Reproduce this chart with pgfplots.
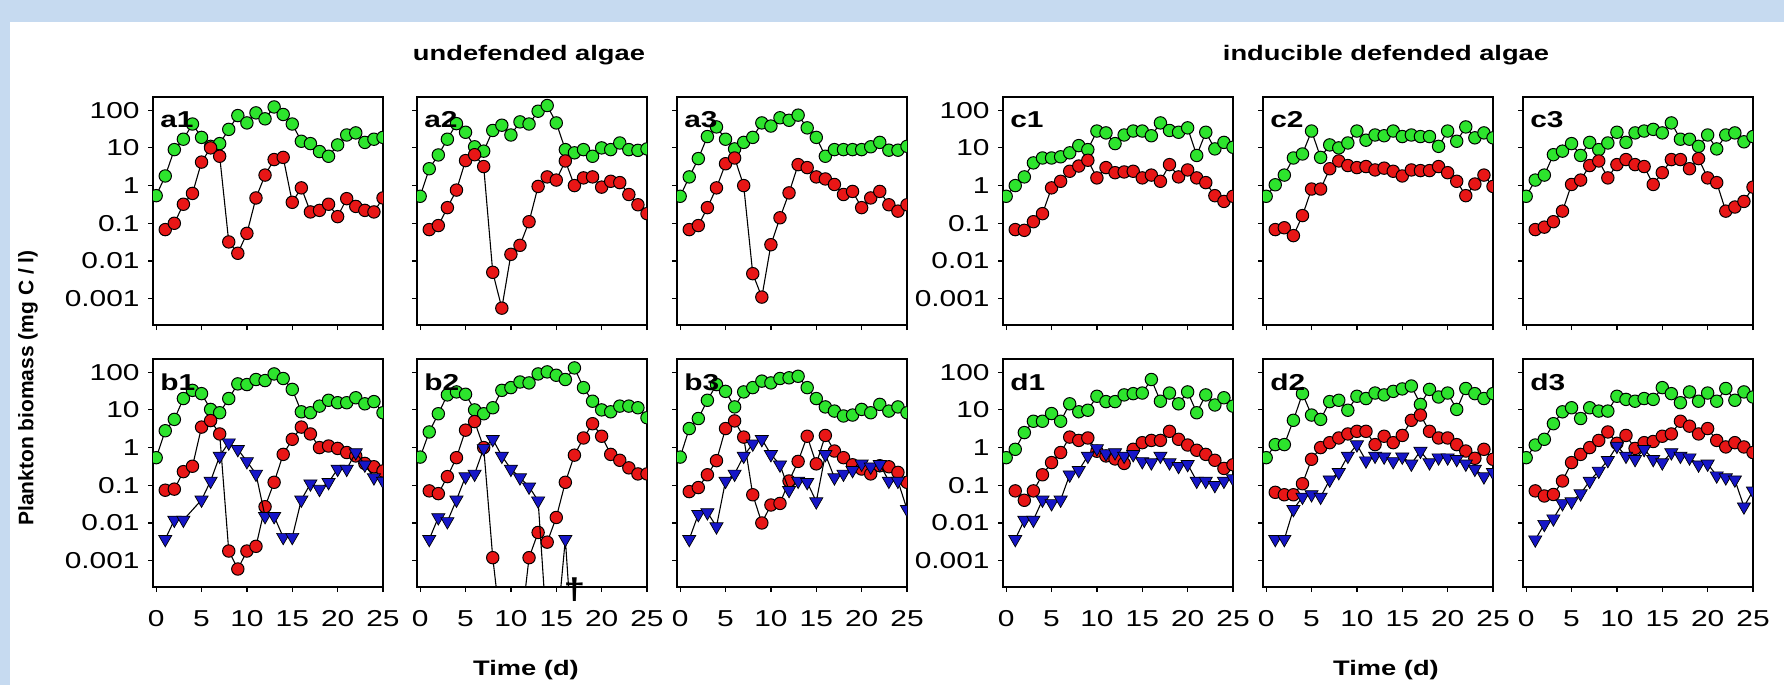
\documentclass[border=0pt]{standalone}
\usepackage{fontspec}
\setmainfont{Liberation Sans}[FakeStretch=1.3]
\newfontfamily\ylabfont{Liberation Sans}
\usepackage{pgfplots}
\pgfplotsset{compat=1.18}
\definecolor{cgreen}{RGB}{45,228,45}
\definecolor{cred}{RGB}{232,22,22}
\definecolor{cblue}{RGB}{22,22,200}
\definecolor{bgblue}{RGB}{198,218,240}
\pgfplotsset{
 mypanel/.style={
  scale only axis, width=115pt, height=114pt, anchor=north west,
  xmin=-0.35, xmax=25, ymin=0.0002, ymax=224,
  xtick={0,5,10,15,20,25}, ytick={0.001,0.01,0.1,1,10,100},
  yminorticks=false, tick align=outside, tick pos=left,
  major tick length=2.5pt,
  axis line style={line width=0.6pt},
  every tick/.append style={line width=0.6pt, black},
  xticklabels={}, yticklabels={},
  clip marker paths=true,
  tick label style={font=\fontsize{11.5}{13}\selectfont},
  yticklabel style={inner sep=0pt, xshift=-4pt},
  xticklabel style={inner sep=0pt, yshift=-9pt},
 },
 withylab/.style={yticklabels={0.001,0.01,0.1,1,10,100}},
 withxlab/.style={xticklabels={0,5,10,15,20,25}},
 sG/.style={black, line width=0.55pt, mark=*, mark size=3.1pt, mark options={fill=cgreen, draw=black, line width=0.5pt}},
 sR/.style={black, line width=0.55pt, mark=*, mark size=3.1pt, mark options={fill=cred, draw=black, line width=0.5pt}},
 sB/.style={black, line width=0.55pt, mark=triangle*, mark size=3.8pt, mark options={fill=cblue, draw=black, rotate=180, line width=0.35pt}},
}
\newcommand{\plab}[1]{\node[anchor=west, inner sep=0pt, font=\bfseries\fontsize{11.5}{13}\selectfont] at (rel axis cs:0.03,0.9) {#1};}
\begin{document}
\begin{tikzpicture}
\fill[bgblue] (0,0) rectangle (892pt,-342.5pt);
\fill[white] (5pt,-11pt) rectangle (892pt,-342.5pt);
\node[inner sep=0pt, font=\bfseries\fontsize{10.5}{12}\selectfont] at (264.5pt,-27.5pt) {undefended algae};
\node[inner sep=0pt, font=\bfseries\fontsize{10.5}{12}\selectfont] at (693pt,-27.5pt) {inducible defended algae};
\node[inner sep=0pt, font=\bfseries\fontsize{10.5}{12}\selectfont] at (263pt,-335pt) {Time (d)};
\node[inner sep=0pt, font=\bfseries\fontsize{10.5}{12}\selectfont] at (693pt,-335pt) {Time (d)};
\node[inner sep=0pt, rotate=90, font=\ylabfont\bfseries\fontsize{10.5}{12}\selectfont] at (14pt,-194pt) {Plankton biomass (mg C / l)};

% ---------- a1 ----------
\begin{axis}[ymode=log, mypanel, withylab, at={(76.5pt,-48.5pt)}]
\addplot[sG] coordinates {(0,0.54)(1,1.8)(2,9)(3,17)(4,43)(5,19)(6,11)(7,13)(8,31)(9,72)(10,46)(11,85)(12,59)(13,122)(14,77)(15,43)(16,15)(17,13)(18,8)(19,6)(20,12)(21,22)(22,25)(23,14)(24,17)(25,19)};
\addplot[sR] coordinates {(1,0.068)(2,0.1)(3,0.32)(4,0.62)(5,4.2)(6,10)(7,6)(8,0.032)(9,0.016)(10,0.054)(11,0.47)(12,1.9)(13,4.9)(14,5.6)(15,0.36)(16,0.87)(17,0.2)(18,0.22)(19,0.32)(20,0.15)(21,0.45)(22,0.28)(23,0.22)(24,0.2)(25,0.47)};
\plab{a1}
\end{axis}
% ---------- a2 ----------
\begin{axis}[ymode=log, mypanel, at={(208.5pt,-48.5pt)}]
\addplot[sG] coordinates {(0,0.52)(1,2.8)(2,6.5)(3,17)(4,44)(5,26)(6,10.7)(7,8.2)(8,29)(9,40)(10,22)(11,49)(12,43)(13,94)(14,133)(15,46)(16,9)(17,7.4)(18,9)(19,6)(20,10)(21,9)(22,13.5)(23,9)(24,8.6)(25,9.4)};
\addplot[sR] coordinates {(1,0.068)(2,0.087)(3,0.26)(4,0.76)(5,4.6)(6,6.6)(7,3.2)(8,0.005)(9,0.00056)(10,0.015)(11,0.026)(12,0.11)(13,0.95)(14,1.7)(15,1.4)(16,4.5)(17,1.0)(18,1.6)(19,1.7)(20,0.91)(21,1.3)(22,1.2)(23,0.58)(24,0.31)(25,0.18)};
\plab{a2}
\end{axis}
% ---------- a3 ----------
\begin{axis}[ymode=log, mypanel, at={(338.5pt,-48.5pt)}]
\addplot[sG] coordinates {(0,0.52)(1,1.7)(2,5.2)(3,20)(4,36)(5,17)(6,9.4)(7,14)(8,19)(9,46)(10,38)(11,63)(12,54)(13,74)(14,34)(15,19)(16,6)(17,9)(18,9)(19,9)(20,9)(21,10.7)(22,14)(23,8.7)(24,8.7)(25,11)};
\addplot[sR] coordinates {(1,0.068)(2,0.087)(3,0.26)(4,0.87)(5,3.8)(6,5.4)(7,1.0)(8,0.0046)(9,0.0011)(10,0.027)(11,0.14)(12,0.64)(13,3.6)(14,3.0)(15,1.7)(16,1.5)(17,1.07)(18,0.58)(19,0.7)(20,0.26)(21,0.47)(22,0.7)(23,0.31)(24,0.21)(25,0.31)};
\plab{a3}
\end{axis}
% ---------- c1 ----------
\begin{axis}[ymode=log, mypanel, withylab, at={(501.5pt,-48.5pt)}]
\addplot[sG] coordinates {(0,0.52)(1,1.0)(2,1.7)(3,4)(4,5.4)(5,5.4)(6,5.8)(7,7.4)(8,11.5)(9,9)(10,28)(11,25)(12,13)(13,22)(14,28)(15,28)(16,21)(17,46)(18,29)(19,26)(20,34)(21,6.3)(22,26)(23,9.4)(24,14)(25,10.4)};
\addplot[sR] coordinates {(1,0.068)(2,0.065)(3,0.11)(4,0.18)(5,0.87)(6,1.3)(7,2.4)(8,3.3)(9,4.7)(10,1.6)(11,3.0)(12,2.2)(13,2.3)(14,2.4)(15,1.6)(16,1.9)(17,1.3)(18,3.6)(19,1.7)(20,2.6)(21,1.6)(22,1.2)(23,0.54)(24,0.38)(25,0.52)};
\plab{c1}
\end{axis}
% ---------- c2 ----------
\begin{axis}[ymode=log, mypanel, at={(631.5pt,-48.5pt)}]
\addplot[sG] coordinates {(0,0.52)(1,1.05)(2,1.9)(3,5.4)(4,6.9)(5,28)(6,5.6)(7,12)(8,10)(9,13.5)(10,28)(11,16)(12,22)(13,21)(14,28)(15,20)(16,22)(17,20)(18,20)(19,11)(20,28)(21,15)(22,36)(23,18.5)(24,25)(25,18.5)};
\addplot[sR] coordinates {(1,0.068)(2,0.076)(3,0.047)(4,0.16)(5,0.81)(6,0.81)(7,2.8)(8,4.5)(9,3.4)(10,3.0)(11,3.2)(12,2.6)(13,2.9)(14,2.4)(15,1.8)(16,2.6)(17,2.5)(18,2.5)(19,3.2)(20,2.2)(21,1.3)(22,0.54)(23,1.1)(24,1.9)(25,0.95)};
\plab{c2}
\end{axis}
% ---------- c3 ----------
\begin{axis}[ymode=log, mypanel, at={(761.5pt,-48.5pt)}]
\addplot[sG] coordinates {(0,0.52)(1,1.4)(2,1.9)(3,6.6)(4,8.2)(5,13)(6,6.3)(7,14)(8,9)(9,13.5)(10,26)(11,14)(12,25)(13,28)(14,31)(15,25)(16,46)(17,17)(18,17)(19,11)(20,22)(21,9.4)(22,22)(23,25)(24,14.5)(25,20)};
\addplot[sR] coordinates {(1,0.068)(2,0.079)(3,0.11)(4,0.21)(5,1.07)(6,1.4)(7,3.4)(8,4.5)(9,1.6)(10,3.6)(11,4.9)(12,3.6)(13,3.2)(14,1.07)(15,2.2)(16,4.9)(17,4.9)(18,2.8)(19,5.2)(20,1.6)(21,1.2)(22,0.21)(23,0.27)(24,0.38)(25,0.91)};
\plab{c3}
\end{axis}
% ---------- b1 ----------
\begin{axis}[ymode=log, mypanel, withylab, withxlab, at={(76.5pt,-179.5pt)}]
\addplot[sG] coordinates {(0,0.54)(1,2.8)(2,5.6)(3,20)(4,33)(5,27)(6,10.3)(7,8.4)(8,20)(9,49)(10,47)(11,64)(12,60)(13,90)(14,68)(15,35)(16,8.9)(17,8.4)(18,12.6)(19,18)(20,15.5)(21,15.5)(22,21)(23,14.5)(24,16.6)(25,8.4)};
\addplot[sR] coordinates {(1,0.074)(2,0.079)(3,0.23)(4,0.32)(5,3.5)(6,5.2)(7,2.3)(8,0.0018)(9,0.0006)(10,0.0018)(11,0.0024)(12,0.027)(13,0.12)(14,0.66)(15,1.66)(16,3.5)(17,2.3)(18,1.0)(19,1.1)(20,0.95)(21,0.74)(22,0.6)(23,0.38)(24,0.31)(25,0.24)};
\addplot[sB] coordinates {(1,0.0037)(2,0.012)(3,0.012)(5,0.041)(6,0.13)(7,0.6)(8,1.35)(9,0.9)(10,0.43)(11,0.2)(12,0.015)(13,0.015)(14,0.0042)(15,0.0042)(16,0.041)(17,0.11)(18,0.079)(19,0.12)(20,0.27)(21,0.27)(22,0.74)(23,0.35)(24,0.16)(25,0.13)};
\plab{b1}
\end{axis}
% ---------- b2 ----------
\begin{axis}[ymode=log, mypanel, withxlab, at={(208.5pt,-179.5pt)}, clip mode=individual]
\addplot[sG] coordinates {(0,0.56)(1,2.6)(2,7.9)(3,25)(4,30)(5,26)(6,10)(7,7.9)(8,11.4)(9,33)(10,39)(11,55)(12,52)(13,90)(14,102)(15,83)(16,64)(17,130)(18,39)(19,17)(20,10)(21,8.9)(22,12.6)(23,12.6)(24,11.4)(25,6.2)};
\addplot[sR] coordinates {(1,0.071)(2,0.06)(3,0.17)(4,0.54)(5,2.9)(6,4.9)(7,1.0)(8,0.0012)(9,0.00001)(10,0.00001)(11,0.00001)(12,0.0012)(13,0.0056)(14,0.0031)(15,0.014)(16,0.12)(17,0.63)(18,1.8)(19,4.3)(20,2.0)(21,0.66)(22,0.46)(23,0.29)(24,0.2)(25,0.2)};
\addplot[sB] coordinates {(1,0.0037)(2,0.014)(3,0.011)(4,0.041)(5,0.17)(6,0.2)(7,0.95)(8,1.66)(9,0.6)(10,0.27)(11,0.16)(12,0.091)(13,0.039)(14,0.00001)(15,0.00001)(16,0.0037)(17,0.000001)};
\plab{b2}
\node[font=\bfseries\fontsize{15}{17}\selectfont, inner sep=0pt] at (axis cs:17,0.00017) {†};
\end{axis}
% ---------- b3 ----------
\begin{axis}[ymode=log, mypanel, withxlab, at={(338.5pt,-179.5pt)}]
\addplot[sG] coordinates {(0,0.56)(1,3.2)(2,5.9)(3,18)(4,47)(5,31)(6,12)(7,30)(8,39)(9,58)(10,52)(11,68)(12,71)(13,78)(14,39)(15,20)(16,12)(17,9.3)(18,6.9)(19,7.3)(20,10.3)(21,8.4)(22,14)(23,9.3)(24,12)(25,8.4)};
\addplot[sR] coordinates {(1,0.068)(2,0.087)(3,0.19)(4,0.45)(5,3.2)(6,5.1)(7,1.9)(8,0.056)(9,0.01)(10,0.03)(11,0.033)(12,0.13)(13,0.43)(14,2.0)(15,0.37)(16,2.1)(17,0.81)(18,0.54)(19,0.35)(20,0.27)(21,0.2)(22,0.33)(23,0.31)(24,0.22)(25,0.12)};
\addplot[sB] coordinates {(1,0.0037)(2,0.017)(3,0.019)(4,0.008)(5,0.13)(6,0.2)(7,0.6)(8,1.26)(9,1.66)(10,0.66)(11,0.35)(12,0.074)(13,0.13)(14,0.12)(15,0.037)(16,0.66)(17,0.16)(18,0.2)(19,0.25)(20,0.37)(21,0.31)(22,0.36)(23,0.13)(24,0.13)(25,0.023)};
\plab{b3}
\end{axis}
% ---------- d1 ----------
\begin{axis}[ymode=log, mypanel, withylab, withxlab, at={(501.5pt,-179.5pt)}]
\addplot[sG] coordinates {(0,0.54)(1,0.9)(2,2.5)(3,5)(4,5)(5,8)(6,5)(7,14.5)(8,8.9)(9,9.8)(10,23)(11,16.6)(12,16.6)(13,25)(14,27)(15,28)(16,64)(17,17)(18,28)(19,14.5)(20,30)(21,8.4)(22,25)(23,13.5)(24,21)(25,12.6)};
\addplot[sR] coordinates {(1,0.071)(2,0.04)(3,0.071)(4,0.19)(5,0.4)(6,0.74)(7,1.9)(8,1.55)(9,1.8)(10,0.8)(11,0.6)(12,0.5)(13,0.38)(14,0.9)(15,1.35)(16,1.55)(17,1.55)(18,2.7)(19,1.66)(20,1.17)(21,0.85)(22,0.66)(23,0.46)(24,0.28)(25,0.35)};
\addplot[sB] coordinates {(1,0.0037)(2,0.012)(3,0.012)(4,0.041)(5,0.033)(6,0.041)(7,0.19)(8,0.25)(9,0.6)(10,0.95)(11,0.69)(12,0.74)(13,0.6)(14,0.66)(15,0.43)(16,0.4)(17,0.6)(18,0.4)(19,0.32)(20,0.36)(21,0.13)(22,0.13)(23,0.1)(24,0.13)(25,0.15)};
\plab{d1}
\end{axis}
% ---------- d2 ----------
\begin{axis}[ymode=log, mypanel, withxlab, at={(631.5pt,-179.5pt)}]
\addplot[sG] coordinates {(0,0.54)(1,1.2)(2,1.2)(3,5.3)(4,27)(5,7.3)(6,5.6)(7,16.6)(8,18)(9,9.8)(10,23)(11,20)(12,28)(13,25)(14,31)(15,36)(16,43)(17,14)(18,35)(19,22)(20,28)(21,10.3)(22,37)(23,27)(24,20)(25,27)};
\addplot[sR] coordinates {(1,0.065)(2,0.056)(3,0.056)(4,0.11)(5,0.49)(6,1.0)(7,1.35)(8,1.8)(9,2.3)(10,2.7)(11,2.7)(12,1.2)(13,2.0)(14,1.35)(15,2.1)(16,5.3)(17,7.3)(18,2.7)(19,1.8)(20,1.8)(21,1.2)(22,0.81)(23,0.52)(24,0.9)(25,0.49)};
\addplot[sB] coordinates {(1,0.0037)(2,0.0037)(3,0.023)(4,0.049)(5,0.057)(6,0.049)(7,0.14)(8,0.22)(9,0.6)(10,1.2)(11,0.45)(12,0.6)(13,0.57)(14,0.43)(15,0.57)(16,0.37)(17,0.81)(18,0.4)(19,0.54)(20,0.54)(21,0.49)(22,0.37)(23,0.27)(24,0.17)(25,0.22)};
\plab{d2}
\end{axis}
% ---------- d3 ----------
\begin{axis}[ymode=log, mypanel, withxlab, at={(761.5pt,-179.5pt)}]
\addplot[sG] coordinates {(0,0.54)(1,1.17)(2,1.66)(3,4.3)(4,8.9)(5,11.4)(6,5.9)(7,11.4)(8,9.3)(9,9.3)(10,23)(11,19)(12,17)(13,20)(14,19)(15,39)(16,27)(17,15.5)(18,30)(19,17)(20,28)(21,17)(22,37)(23,18)(24,30)(25,22)};
\addplot[sR] coordinates {(1,0.071)(2,0.052)(3,0.057)(4,0.13)(5,0.4)(6,0.66)(7,1.0)(8,1.55)(9,2.6)(10,1.3)(11,2.1)(12,0.95)(13,1.35)(14,1.45)(15,2.0)(16,2.3)(17,5.0)(18,3.7)(19,2.3)(20,3.2)(21,1.55)(22,1.04)(23,1.35)(24,1.04)(25,0.74)};
\addplot[sB] coordinates {(1,0.0036)(2,0.0093)(3,0.013)(4,0.033)(5,0.037)(6,0.06)(7,0.13)(8,0.24)(9,0.46)(10,1.1)(11,0.6)(12,0.49)(13,0.9)(14,0.49)(15,0.4)(16,0.74)(17,0.6)(18,0.54)(19,0.35)(20,0.37)(21,0.18)(22,0.16)(23,0.14)(24,0.027)(25,0.071)};
\plab{d3}
\end{axis}
\end{tikzpicture}
\end{document}
